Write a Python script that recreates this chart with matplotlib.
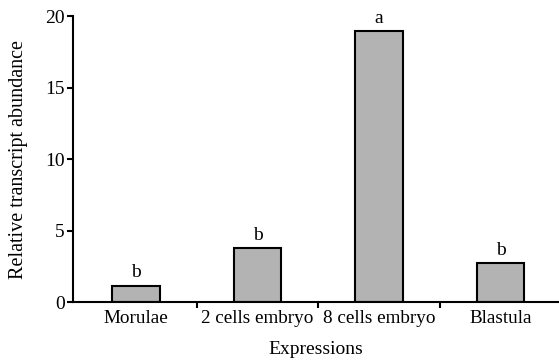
import matplotlib
matplotlib.use('Agg')
import matplotlib.pyplot as plt

# values
categories = ['Morulae', '2 cells embryo', '8 cells embryo', 'Blastula']
abundance = [1.15, 3.8, 18.95, 2.7]
letters = ['b', 'b', 'a', 'b']
y_ticks = [0, 5, 10, 15, 20]

plt.rcParams['font.family'] = ['Liberation Serif', 'DejaVu Serif']

fig = plt.figure(figsize=(5.59, 3.62), dpi=100)
ax = fig.add_axes([0.1306, 0.1657, 0.8694, 0.7901])

x = list(range(len(categories)))
bars = ax.bar(x, abundance, width=0.39, color='#b3b3b3', edgecolor='black', linewidth=1.5)

for xi, v, s in zip(x, abundance, letters):
    ax.annotate(s, (xi, v), xytext=(0, 3), textcoords='offset points',
                ha='center', va='bottom', fontsize=14)

ax.set_xlim(-0.52, 3.48)
ax.set_ylim(0, 20)
ax.set_yticks(y_ticks)
ax.tick_params(axis='y', labelsize=14, length=4, width=1.5, direction='out', pad=2)

# category labels centered, tick marks between groups
ax.set_xticks([0.5, 1.5, 2.5])
ax.set_xticklabels([])
ax.tick_params(axis='x', length=4, width=1.5, direction='out')
ax.set_xticks(x, minor=True)
ax.set_xticklabels(categories, minor=True)
ax.tick_params(axis='x', which='minor', length=0, labelsize=13.8, pad=6)

for side in ['top', 'right']:
    ax.spines[side].set_visible(False)
for side in ['left', 'bottom']:
    ax.spines[side].set_linewidth(1.5)

ax.set_xlabel('Expressions', fontsize=14, labelpad=10)
ax.set_ylabel('Relative transcript abundance', fontsize=14.5, labelpad=12)

fig.savefig('out.png', dpi=100)
